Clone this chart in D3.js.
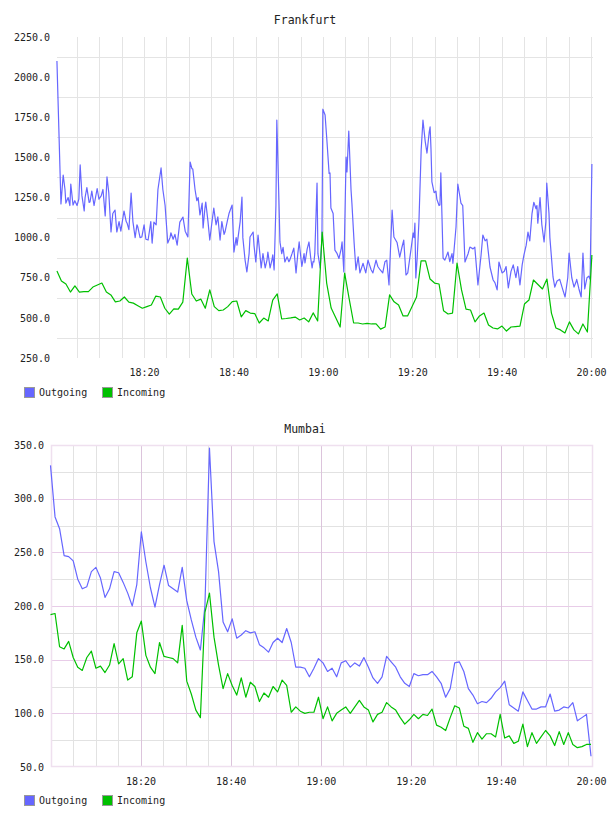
<!DOCTYPE html>
<html><head><meta charset="utf-8">
<script src="https://cdn.jsdelivr.net/npm/d3@7"></script>
<style>body{margin:0;background:#fff}svg{display:block}text{font-family:"DejaVu Sans Mono",monospace;fill:#222}</style>
</head><body><svg id="c" width="608" height="816"></svg>
<script>
// ---- DATA (minutes after 18:00) ----
const seriesNames = ["Outgoing", "Incoming"];
const seriesColors = ["#6666ff", "#00c000"];
const xTickLabels = ["18:20", "18:40", "19:00", "19:20", "19:40", "20:00"];
const frankfurtYTicks = [250, 500, 750, 1000, 1250, 1500, 1750, 2000, 2250];
const mumbaiYTicks = [50, 100, 150, 200, 250, 300, 350];

const frankfurtOutgoing = [[0.5,2100],[1.4,1210],[1.9,1390],[2.3,1300],[2.5,1215],[3.0,1250],[3.4,1200],[3.6,1334],[4.1,1203],[4.5,1230],[5.0,1200],[5.4,1240],[5.7,1453],[6.1,1260],[6.6,1166],[6.8,1250],[7.2,1312],[7.7,1220],[7.9,1222],[8.3,1290],[8.8,1200],[9.5,1306],[9.9,1240],[10.4,1260],[10.8,1300],[11.3,1135],[11.7,1378],[12.1,1280],[12.6,1035],[13.0,1150],[13.5,1172],[13.9,1035],[14.4,1100],[14.8,1040],[15.5,1166],[16.0,1100],[16.2,1090],[16.6,1050],[17.1,1278],[17.5,1100],[18.0,1000],[18.4,1080],[18.6,1066],[19.1,1000],[19.5,1004],[20.0,1080],[20.4,990],[20.9,985],[21.3,1060],[21.5,1100],[21.8,966],[22.2,1097],[22.7,1080],[23.1,1300],[23.8,1434],[24.2,1300],[24.7,1200],[25.3,966],[25.8,1000],[26.0,1030],[26.5,990],[26.9,1020],[27.4,953],[28.0,1097],[28.7,1128],[29.2,1040],[29.8,1004],[30.3,1471],[30.7,1430],[30.9,1427],[31.4,1300],[31.8,1230],[32.1,1250],[32.5,1141],[33.0,1215],[33.2,1060],[33.6,1180],[33.8,1222],[34.3,1100],[34.7,985],[35.2,1100],[35.6,1184],[36.1,1080],[36.5,1130],[37.0,985],[37.4,1100],[37.9,1020],[38.1,1035],[38.6,1100],[39.0,1150],[39.7,1203],[40.1,910],[40.6,1000],[40.8,953],[41.5,1100],[41.9,1253],[42.1,1000],[42.6,860],[43.0,786],[43.5,900],[43.7,1004],[44.4,1035],[44.6,950],[45.0,848],[45.5,1016],[45.9,900],[46.2,811],[46.6,900],[47.1,811],[47.5,860],[47.7,910],[48.2,811],[48.6,860],[48.8,892],[49.1,799],[49.5,1200],[49.7,1733],[50.2,1200],[50.4,973],[50.8,900],[51.1,940],[51.5,848],[52.0,880],[52.4,850],[52.6,860],[53.1,900],[53.5,935],[54.0,780],[54.4,900],[54.7,973],[55.1,870],[55.3,820],[55.8,900],[56.0,842],[56.5,930],[56.9,973],[57.3,870],[57.6,811],[57.8,850],[58.0,848],[58.2,900],[58.7,1340],[58.9,900],[59.4,811],[59.8,1000],[60.0,1800],[60.5,1764],[60.9,1608],[61.4,1400],[61.6,1403],[61.8,1184],[62.3,1150],[62.7,922],[63.2,900],[63.6,870],[64.1,930],[64.3,973],[64.7,786],[65.2,1502],[65.4,1409],[65.8,1664],[66.3,1300],[66.5,1215],[67.0,966],[67.4,799],[67.9,880],[68.3,780],[69.0,840],[69.6,780],[70.1,860],[70.8,800],[71.2,780],[71.9,860],[72.3,820],[72.8,800],[73.4,780],[73.9,850],[74.3,860],[74.8,705],[75.5,1172],[75.9,1004],[76.6,970],[77.2,879],[77.7,940],[78.1,985],[78.6,767],[79.0,780],[79.7,922],[80.2,1029],[80.4,1000],[80.6,1090],[80.8,749],[81.1,870],[81.5,1100],[82.0,1546],[82.4,1733],[82.9,1600],[83.3,1527],[83.8,1658],[84.0,1690],[84.2,1550],[84.4,1347],[84.9,1280],[85.3,1290],[85.5,1240],[86.0,1200],[86.2,1203],[86.4,1403],[86.9,873],[87.3,860],[88.0,910],[88.4,850],[88.9,900],[89.1,840],[89.8,1066],[90.2,1334],[90.7,1250],[90.9,1215],[91.3,1200],[91.8,848],[92.5,900],[92.9,941],[93.6,930],[94.0,941],[94.7,705],[95.4,890],[95.8,1016],[96.3,980],[96.7,990],[97.4,817],[98.1,736],[98.5,720],[99.0,674],[99.4,848],[100.1,780],[100.6,790],[101.0,820],[101.5,686],[102.1,790],[102.6,830],[103.2,750],[103.6,820],[104.1,705],[104.6,830],[105.0,892],[105.5,953],[105.9,1035],[106.3,980],[106.8,1150],[107.2,1220],[107.7,1180],[107.9,1200],[108.1,1090],[108.6,1250],[109.0,1080],[109.5,973],[109.9,1100],[110.1,1340],[110.6,1150],[110.8,1000],[111.5,755],[111.9,692],[112.4,730],[113.0,740],[113.7,674],[114.2,630],[114.8,750],[115.1,904],[115.7,750],[116.2,692],[116.6,720],[116.8,740],[117.3,680],[117.8,630],[118.2,904],[118.6,680],[119.1,750],[119.5,760],[119.8,740],[120.2,1459]];

// Frankfurt incoming: one sample per interval from 18:00:30 to 20:00:12
const frankfurtIncoming = [792,730,711,661,699,661,663,664,692,705,717,661,643,600,605,630,598,592,576,560,570,580,636,630,560,524,556,555,598,873,649,605,617,560,674,570,545,549,570,601,605,506,545,530,527,468,499,481,611,649,493,496,500,505,487,499,475,531,481,1035,717,561,502,443,779,620,468,468,462,466,462,462,430,443,643,600,580,512,512,571,630,855,855,742,717,711,545,524,530,842,674,555,549,475,512,530,456,437,431,449,418,443,446,449,586,611,736,708,680,742,530,437,425,406,475,425,400,462,412,892];

// Mumbai: one sample per interval from 18:00 to 20:00
const mumbaiOutgoing = [331,283,272,247,246,242,225,216,218,232,236,226,208,216,232,231,222,212,200,220,269,241,217,199,220,238,219,216,213,236,205,187,171,159,200,347,260,232,185,176,188,170,173,177,175,176,164,161,157,166,170,166,179,166,143,143,142,134,142,151,147,139,142,134,147,149,143,147,144,152,143,133,128,134,153,148,143,134,128,125,137,135,136,136,139,134,128,115,123,147,148,139,123,117,109,111,110,114,120,124,130,108,105,102,120,112,104,104,106,106,118,102,103,106,105,110,93,96,99,60];
const mumbaiIncoming = [192,193,162,160,167,152,143,140,152,158,142,144,138,145,165,146,151,131,134,175,186,154,143,137,166,153,152,151,147,182,130,118,103,96,194,212,171,145,123,137,126,117,133,115,129,125,111,119,115,125,120,131,126,101,106,102,100,101,101,115,95,106,93,100,103,106,100,106,112,106,103,92,99,101,110,106,103,96,90,94,99,95,99,98,104,89,87,84,96,107,105,88,86,73,82,76,81,81,78,99,77,79,72,74,90,69,82,72,78,84,79,70,83,71,82,71,68,69,71,71];

// ---- DRAW ----
const svg = d3.select("#c");
svg.append("rect").attr("width",608).attr("height",816).attr("fill","#fff");
const t0 = new Date(2020,0,1,18,0,0);
const atMin = m => new Date(t0.getTime() + m*60000);
const fmtTime = d3.timeFormat("%H:%M");

function drawChart(cfg){
  const g = svg.append("g");
  const x = d3.scaleTime().domain([atMin(0), atMin(120)]).range([cfg.x0, cfg.x120]);
  const y = d3.scaleLinear().domain(cfg.yDomain).range([cfg.bottom, cfg.top]);
  const right = cfg.right;

  const minorX = d3.range(5,121,5).map(atMin);
  g.append("g").selectAll("line").data(minorX.filter(d => cfg.showMajor ? (d.getMinutes()%20!==0) : true))
    .join("line").attr("x1",d=>Math.round(x(d))+0.5).attr("x2",d=>Math.round(x(d))+0.5)
    .attr("y1",cfg.top).attr("y2",cfg.bottom).attr("stroke",cfg.minorColor).attr("stroke-width",1);
  const minorY = cfg.yTicks.slice(0,-1).map((v,i)=> (v+cfg.yTicks[i+1])/2);
  g.append("g").selectAll("line").data(minorY).join("line")
    .attr("x1",cfg.left).attr("x2",right).attr("y1",d=>Math.round(y(d))+0.5).attr("y2",d=>Math.round(y(d))+0.5)
    .attr("stroke",cfg.minorColor);
  if (cfg.showMajor){
    g.append("g").selectAll("line").data(cfg.yTicks.slice(1,-1)).join("line")
      .attr("x1",cfg.left).attr("x2",right).attr("y1",d=>Math.round(y(d))+0.5).attr("y2",d=>Math.round(y(d))+0.5)
      .attr("stroke",cfg.majorHColor);
    g.append("g").selectAll("line").data(minorX.filter(d=>d.getMinutes()%20===0 && x(d)<right-4)).join("line")
      .attr("x1",d=>Math.round(x(d))+0.5).attr("x2",d=>Math.round(x(d))+0.5)
      .attr("y1",cfg.top).attr("y2",cfg.bottom).attr("stroke",cfg.majorVColor);
    g.append("rect").attr("x",cfg.left+0.5).attr("y",cfg.top+0.5).attr("width",right-cfg.left-1).attr("height",cfg.bottom-cfg.top-1)
      .attr("fill","none").attr("stroke",cfg.borderColor).attr("stroke-width",1.5);
  }

  g.append("text").attr("x",305).attr("y",cfg.titleY).attr("text-anchor","middle")
    .attr("font-size","11.5px").text(cfg.title);

  const ya = g.append("g").attr("transform",`translate(${cfg.left},0)`)
    .call(d3.axisLeft(y).tickValues(cfg.yTicks).tickFormat(d3.format(".1f")).tickSize(0).tickPadding(cfg.yPad));
  ya.select(".domain").remove();
  ya.selectAll("text").attr("font-size","10px").attr("font-family","DejaVu Sans Mono, monospace").attr("fill","#222");

  const xTicks = xTickLabels.map(s => { const [h,m]=s.split(":").map(Number); return atMin((h-18)*60+m); });
  const xa = g.append("g").attr("transform",`translate(0,${cfg.bottom})`)
    .call(d3.axisBottom(x).tickValues(xTicks).tickFormat(fmtTime).tickSize(0).tickPadding(11));
  xa.select(".domain").remove();
  xa.selectAll("text").attr("font-size","10px").attr("font-family","DejaVu Sans Mono, monospace").attr("fill","#222");

  const line = d3.line().x(d=>x(atMin(d[0]))).y(d=>y(d[1]));
  cfg.series.forEach((s,i)=>{
    g.append("path").datum(s).attr("fill","none").attr("stroke",seriesColors[i])
      .attr("stroke-width",1.2).attr("stroke-linejoin","round").attr("d",line);
  });

  const lg = g.append("g");
  const lx = [24, 102];
  seriesNames.forEach((n,i)=>{
    lg.append("rect").attr("x",lx[i]+0.5).attr("y",cfg.legendY-5+0.5).attr("width",10).attr("height",10)
      .attr("fill",seriesColors[i]).attr("stroke","#999");
    lg.append("text").attr("x",lx[i]+15).attr("y",cfg.legendY).attr("dy","0.35em")
      .attr("font-size","10px").text(n);
  });
}

const evenTimes = (vals, start, end) => vals.map((v,i)=>[start + i*(end-start)/(vals.length-1), v]);

drawChart({
  title:"Frankfurt", titleY:24, left:57, right:593, x0:54.7, x120:591, top:37, bottom:358,
  yDomain:[250,2250], yTicks:frankfurtYTicks, yPad:7, showMajor:false, minorColor:"#e4e4e4",
  legendY:392,
  series:[frankfurtOutgoing, evenTimes(frankfurtIncoming, 0.5, 120.2)]
});
drawChart({
  title:"Mumbai", titleY:433, left:51, right:593, x0:50.5, x120:591, top:445, bottom:767,
  yDomain:[50,350], yTicks:mumbaiYTicks, yPad:7, showMajor:true, minorColor:"#e2e2e2",
  majorHColor:"#e8cce8", majorVColor:"#dcc4dc", borderColor:"#efe0ef",
  legendY:800,
  series:[evenTimes(mumbaiOutgoing, 0, 120), evenTimes(mumbaiIncoming, 0, 120)]
});
</script></body></html>
